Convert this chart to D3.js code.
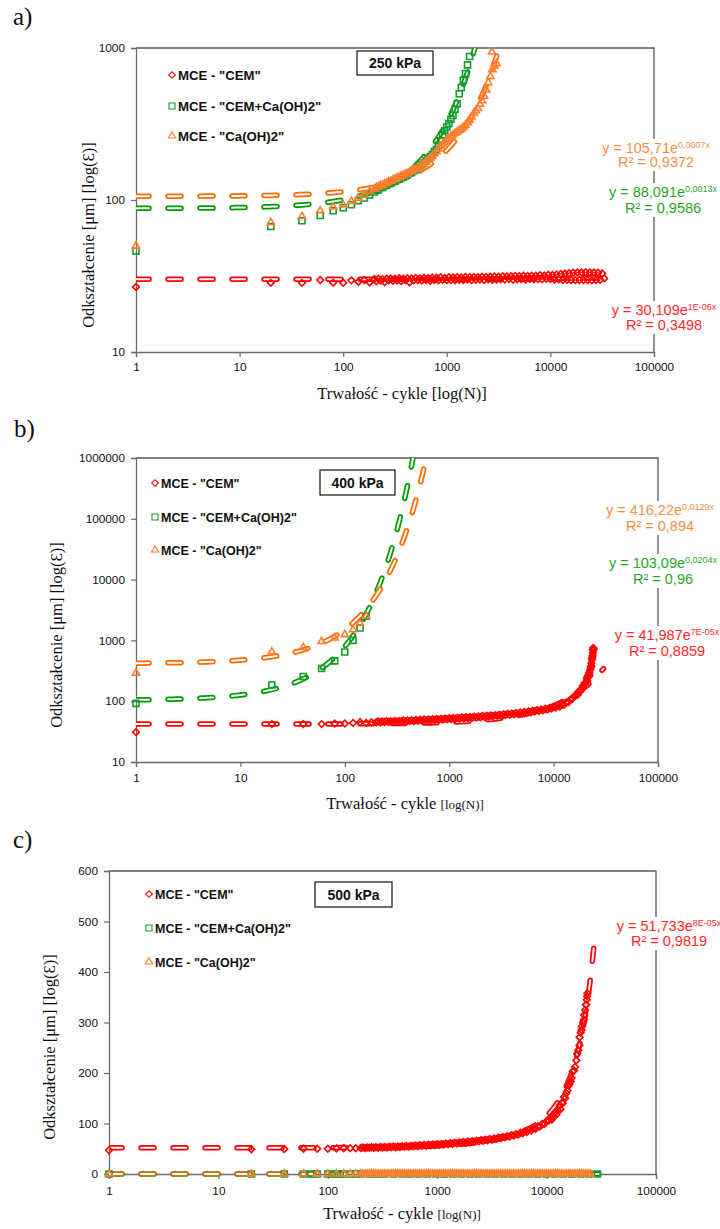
<!DOCTYPE html>
<html><head><meta charset="utf-8">
<script src="https://cdn.jsdelivr.net/npm/d3@7"></script>
<style>body{margin:0;background:#fff}svg{display:block}</style>
</head><body>
<svg id="chart" width="720" height="1229"></svg>
<script>
// ---------------- DATA ----------------
const xTicks = [1, 10, 100, 1000, 10000, 100000];
const yTicksA = [10, 100, 1000];
const yTicksB = [10, 100, 1000, 10000, 100000, 1000000];
const yTicksC = [0, 100, 200, 300, 400, 500, 600];
const seriesNames = ['MCE - "CEM"', 'MCE - "CEM+Ca(OH)2"', 'MCE - "Ca(OH)2"'];
const panelLabels = ['a)', 'b)', 'c)'];
const pressures = ['250 kPa', '400 kPa', '500 kPa'];
const xTitle = 'Trwałość - cykle ';
const xTitleUnit = '[log(N)]';
const yTitle = 'Odkształcenie [μm] [log(Ɛ)]';

const cycleGrid = [200,209,219,229,240,251,263,275,288,302,316,331,347,363,380,398,417,437,457,479,501,525,550,575,603,631,661,692,724,759,794,832,871,912,955,1000,1047,1096,1148,1202,1259,1318,1380,1445,1514,1585,1660,1738,1820,1905,1995,2089,2188,2291,2399,2512,2630,2754,2884,3020,3162,3311,3467,3631,3802,3981,4169,4365,4571,4786,5012,5248,5495,5754,6026,6310,6607,6918,7244,7586,7943,8318,8710,9120,9550,10000,10471,10965,11482,12023,12589,13183,13804,14454,15136,15849,16596,17378,18197,19055,19953,20893,21878,22909,23988,25119,26303,27542,28840,30200,31623,33113];

// panel a (250 kPa)
const cemA_early = [[1,26.8],[20,28.5],[40,28.5],[60,29.8],[80,28.6],[100,28.5],[120,29.6],[140,29],[160,29.8],[180,28.7]];
const cemA_dense = [30.2,29.2,30.4,29.5,30.1,28.8,30.3,29.6,30.5,29.4,30.3,29.5,30.6,29.3,30.4,29.7,30.6,28.7,30.5,29.6,30.7,29.7,30.5,29.5,30.8,29.8,30.6,29.4,30.9,29.8,30.8,29.6,31,29.9,30.7,29.7,31,29.8,30.9,29.6,31.1,29.9,30.9,29.8,31.2,30,31,29.7,31.2,29.9,31.1,30,31.3,29.8,31.2,30.1,31.3,29.9,31.4,30,31.3,30.1,31.5,30,31.4,30.2,31.5,29.9,31.6,30.1,31.5,30.2,31.7,30,31.6,30.3,31.8,30.1,31.8,30.2,32,30.1,31.9,30.3,32.2,30.2,32.1,30,32.4,30.1,32.6,29.8,32.8,29.9,33,29.8,33.2,29.7,33.3,29.8,33.4,29.7,33.5,29.8,33.4,29.6,33.3,29.8,33.2,29.9,32.8,30.5];
const cemCaA_early = [[1,46],[20,67],[40,73],[60,79],[80,85],[100,89],[120,93],[140,99],[160,103],[180,108]];
const cemCaA_dense = [113,116,117,121,121,124,125,128,129,132,133,136,137,140,141,144,146,150,152,156,158,163,166,171,175,181,186,193,199,208,215,230,245,268,285,302,318,340,360,395,430,500,550,615,680,775,880];
const caA_early = [[1,50],[20,71],[40,78],[60,85],[80,90],[100,93],[120,98],[140,103],[160,108],[180,114],[2730,942]];
const caA_dense = [118,121,122,125,125,128,129,132,133,136,137,140,141,144,145,148,149,153,155,158,160,163,165,170,173,179,183,189,194,201,208,217,225,233,240,249,255,263,268,275,280,287,292,301,310,323,335,352,372,387,400,427,450,482,530,592,650,722,760,790];
const trendCoefA = [30.109, 88.091, 105.71];
const trendRateA = [1e-6, 0.0013, 0.0007];
const trendMaxA = [33000, 2000, 3300];
const trendEqA = ['y = 30,109e', 'y = 88,091e', 'y = 105,71e'];
const trendSupA = ['1E-06x', '0,0013x', '0,0007x'];
const trendR2A = ['R² = 0,3498', 'R² = 0,9586', 'R² = 0,9372'];

// panel b (400 kPa)
const cemB_early = [[1,31],[20,42],[40,42],[60,42],[80,43],[100,43],[120,44],[140,45],[160,44],[180,45]];
const cemB_dense = [45,46.5,45,46.5,45.5,47,45.5,47,46,47.5,46,47.5,46.5,48,46.5,48,47,48.5,47,49,47.5,49.5,48,50,48,50,48.5,50.5,49,51,49.5,51.5,50,52,50.5,52.5,51,53,51.5,53.5,52,54,52.5,54.5,53,55,53.5,55.5,54,56,54.5,57,55,57.5,56,58,56.5,59,57.5,60,58,61,59,62,60,63,61,64,62,65,63,66.5,64.5,68,66,69.5,67.5,71,69,73,71,75,73,77.5,75.5,80,78.5,84,82,88,87,95,96,106,110,122,128,145,155,180,200,235,280,380,700];
const cemB_tail = [[21000,250],[21500,265],[22000,300],[22400,330],[22700,360],[23000,420],[23300,480],[23400,520],[23600,560],[23800,620],[23900,680],[24000,750],[24100,720],[20000,190],[21000,215],[22000,260],[19000,165],[18000,145],[17000,128]];
const cemCaB = [[1,92],[20,185],[40,255],[60,345],[80,460],[100,645],[120,1000],[140,1600],[160,2500]];
const caB = [[1,290],[20,650],[40,770],[60,960],[80,1100],[100,1250],[120,1500],[140,1900],[160,2500]];
const trendCoefB = [41.987, 103.09, 416.22];
const trendRateB = [7e-5, 0.0204, 0.0129];
const trendMaxB = [30000, 700, 1100];
const trendEqB = ['y = 41,987e', 'y = 103,09e', 'y = 416,22e'];
const trendSupB = ['7E-05x', '0,0204x', '0,0129x'];
const trendR2B = ['R² = 0,8859', 'R² = 0,96', 'R² = 0,894'];

// panel c (500 kPa)
const cemC_early = [[1,47],[20,49],[40,49.5],[60,50],[80,50],[100,50],[120,50.5],[140,51],[160,51],[180,51]];
const cemC_dense = [51.5,52.5,51.5,52.5,52,53,52,53,52,53.5,52.5,53.5,52.5,54,53,54.5,53,54.5,53.5,55,54,55.5,54,56,55,56.5,55,57,56,57.5,56,58,57,58.5,57.5,59,58,59.5,58.5,60.5,59,61,60,62,60.5,62.5,61.5,63.5,62,64.5,63,65,64,66,65,67,66,68,67,69.5,68,70.5,69.5,72,71,73.5,72.5,75,74,77,76,79,78,81.5,80.5,84,83,87,86,90,89.5,94,94,99,99,105,106,113,115,123,126,136,141,153,160,175,183,203,212,238,255,285,305,335];
const cemC_tail = [[20000,271],[20500,280],[21000,292],[21500,300],[22000,315],[22500,325],[23000,335],[23300,345],[23500,352],[23600,358],[19500,245],[18700,225],[17800,205],[16900,190],[16200,178],[15500,165],[14800,150],[14000,140],[13400,128],[12300,118],[11200,108]];
const cemCaC = [[1,0],[20,0],[40,0],[60,0],[70,0],[80,0],[100,0],[110,0],[120,0],[130,0],[140,0],[160,0],[180,0],[200,0],[240,0],[280,0],[330,0],[400,0],[480,0],[570,0],[680,0],[810,0],[970,0],[1160,0],[1390,0],[1660,0],[1990,0],[2380,0],[2850,0],[3400,0],[4070,0],[4870,0],[5820,0],[6960,0],[8320,0],[9950,0],[11900,0],[14200,0],[17000,0],[20400,0],[24400,0],[29100,0]];
const caC_early = [[1,0],[20,0],[40,0],[60,0],[80,0],[100,0],[120,0],[140,0],[160,0],[180,0]];
const caC_dense = [0,0,0,0,0,0,0,0,0,0,0,0,0,0,0,0,0,0,0,0,0,0,0,0,0,0,0,0,0,0,0,0,0,0,0,0,0,0,0,0,0,0,0,0,0,0,0,0,0,0,0,0,0,0,0,0,0,0,0,0,0,0,0,0,0,0,0,0,0,0,0,0,0,0,0,0,0,0,0,0,0,0,0,0,0,0,0,0,0,0,0,0,0,0,0,0,0,0,0,0,0,0,0,0,0,0];
const trendCoefC = [51.733, 0, 0];
const trendRateC = [8e-5, 0, 0];
const trendMaxC = [27800, 30000, 25000];
const trendEqC = ['y = 51,733e'];
const trendSupC = ['8E-05x'];
const trendR2C = ['R² = 0,9819'];

// pair the dense readings with their cycle counts
const onGrid = vals => vals.map((v, i) => [cycleGrid[i], v]);
const cemA = cemA_early.concat(onGrid(cemA_dense));
const cemCaA = cemCaA_early.concat(onGrid(cemCaA_dense));
const caA = caA_early.concat(onGrid(caA_dense));
const cemB = cemB_early.concat(onGrid(cemB_dense), cemB_tail);
const cemC = cemC_early.concat(onGrid(cemC_dense), cemC_tail);
const caC = caC_early.concat(onGrid(caC_dense));

// ---------------- STYLE / LAYOUT ----------------
const markerColors = ['#ff0000', '#139a30', '#ff7f30'];
const trendColors = ['#ff0000', '#009a00', '#ff6a00'];
const textColors = ['#ff2a2a', '#2aa52a', '#f39044'];
const symbolTypes = ['diamond', 'square', 'triangle'];
const serif = "'Liberation Serif','Times New Roman',serif";
const sans = "'Liberation Sans',Arial,sans-serif";

const panels = [
  {left:136, right:654, top:48, bottom:352, yLog:true, yDomain:[10,1000], yTicks:yTicksA,
   series:[cemA, cemCaA, caA], coef:trendCoefA, rate:trendRateA, tmax:trendMaxA,
   eq:trendEqA, sup:trendSupA, r2:trendR2A,
   ann:[[664,315,330],[663,197,213],[656,153,167]],
   label:[13,25], legX:172, legY:[75,106,136], legFont:13.2,
   box:[357,51,76,24], xPad:6, yTitleX:88, yTitleY:235, xTitleX:402, xTitleY:399, unitSmall:false},
  {left:136, right:658, top:458, bottom:762, yLog:true, yDomain:[10,1000000], yTicks:yTicksB,
   series:[cemB, cemCaB, caB], coef:trendCoefB, rate:trendRateB, tmax:trendMaxB,
   eq:trendEqB, sup:trendSupB, r2:trendR2B,
   ann:[[667,640,656],[663,568,584],[660,515,531]],
   label:[14,437], legX:155, legY:[483,517,550], legFont:12.5,
   box:[320,470,75,25], xPad:7, yTitleX:56, yTitleY:635, xTitleX:405, xTitleY:809, unitSmall:true},
  {left:109, right:656, top:871, bottom:1174, yLog:false, yDomain:[0,600], yTicks:yTicksC,
   series:[cemC, cemCaC, caC], coef:trendCoefC, rate:trendRateC, tmax:trendMaxC,
   eq:trendEqC, sup:trendSupC, r2:trendR2C,
   ann:[[669,931,946]],
   label:[13,848], legX:149, legY:[894,928,962], legFont:12.5,
   box:[315,882,77,25], xPad:8, yTitleX:49, yTitleY:1047, xTitleX:402, xTitleY:1219, unitSmall:true}
];

const svg = d3.select('#chart');
const defs = svg.append('defs');

function symbolPath(type, size) {
  if (type === 'diamond') return d3.symbol(d3.symbolSquare, size * 0.62)();
  if (type === 'square') return d3.symbol(d3.symbolSquare, size)();
  return d3.symbol(d3.symbolTriangle, size * 0.62)();
}
const markerSize = 36;

panels.forEach((p, pi) => {
  const g = svg.append('g');
  const x = d3.scaleLog().domain([1, 100000]).range([p.left, p.right]);
  const y = p.yLog ? d3.scaleLog().domain(p.yDomain).range([p.bottom, p.top])
                   : d3.scaleLinear().domain(p.yDomain).range([p.bottom, p.top]);

  const clipId = 'clip' + pi;
  defs.append('clipPath').attr('id', clipId).append('rect')
    .attr('x', p.left).attr('y', p.top).attr('width', p.right - p.left).attr('height', p.bottom - p.top + 4);

  g.append('path').attr('d', `M${p.left},${p.top}H${p.right}V${p.bottom}`)
    .attr('fill', 'none').attr('stroke', '#5a5a5a').attr('stroke-width', 1.3);

  const xAxis = d3.axisBottom(x).tickValues(xTicks).tickFormat(d => String(d)).tickSize(5).tickPadding(p.xPad);
  const yAxis = d3.axisLeft(y).tickValues(p.yTicks).tickFormat(d => String(d)).tickSize(5).tickPadding(6);
  const gx = g.append('g').attr('transform', `translate(0,${p.bottom})`).call(xAxis);
  const gy = g.append('g').attr('transform', `translate(${p.left},0)`).call(yAxis);
  [gx, gy].forEach(ax => {
    ax.select('.domain').attr('stroke', '#6a6a6a').attr('stroke-width', 1.3);
    ax.selectAll('.tick line').attr('stroke', '#6a6a6a').attr('stroke-width', 1.2);
    ax.selectAll('.tick text').attr('font-family', sans).attr('font-size', 11.8).attr('fill', '#111');
  });

  // trendlines (hollow dashed look)
  const tg = g.append('g').attr('clip-path', `url(#${clipId})`);
  p.coef.forEach((a, si) => {
    const b = p.rate[si];
    const lx = d3.range(0, 301).map(i => Math.pow(10, Math.log10(p.tmax[si]) * i / 300));
    const pts = lx.map(n => [n, a * Math.exp(b * n)]);
    const line = d3.line().x(d => x(d[0])).y(d => {
      const v = d[1];
      if (p.yLog && v > p.yDomain[1] * 3) return y(p.yDomain[1] * 3);
      return y(v);
    });
    const col = (pi === 2 && si === 2) ? '#c9781f' : trendColors[si];
    tg.append('path').attr('d', line(pts)).attr('fill', 'none').attr('stroke', col)
      .attr('stroke-width', 5.5).attr('stroke-dasharray', '13 19').attr('stroke-linecap', 'round');
    tg.append('path').attr('d', line(pts)).attr('fill', 'none').attr('stroke', '#fff')
      .attr('stroke-width', 2).attr('stroke-dasharray', '13 19').attr('stroke-linecap', 'round');
  });

  // markers
  p.series.forEach((data, si) => {
    const type = symbolTypes[si];
    g.append('g').selectAll('path').data(data).join('path')
      .attr('d', symbolPath(type, markerSize))
      .attr('transform', d => `translate(${x(d[0])},${y(d[1])})` + (type === 'diamond' ? ' rotate(45)' : ''))
      .attr('fill', 'none').attr('stroke', markerColors[si]).attr('stroke-width', 1.6);
  });

  // legend
  seriesNames.forEach((name, si) => {
    const type = symbolTypes[si];
    g.append('path').attr('d', symbolPath(type, markerSize))
      .attr('transform', `translate(${p.legX},${p.legY[si]})` + (type === 'diamond' ? ' rotate(45)' : ''))
      .attr('fill', 'none').attr('stroke', markerColors[si]).attr('stroke-width', 1.1);
    g.append('text').attr('x', p.legX + 6).attr('y', p.legY[si] + 4.5)
      .attr('font-family', sans).attr('font-weight', 'bold').attr('font-size', p.legFont)
      .attr('fill', '#111').text(name);
  });

  // pressure box
  g.append('rect').attr('x', p.box[0]).attr('y', p.box[1]).attr('width', p.box[2]).attr('height', p.box[3])
    .attr('fill', '#fff').attr('stroke', '#111').attr('stroke-width', 1.2);
  g.append('text').attr('x', p.box[0] + p.box[2] / 2).attr('y', p.box[1] + p.box[3] / 2 + 5)
    .attr('text-anchor', 'middle').attr('font-family', sans).attr('font-weight', 'bold')
    .attr('font-size', 14).attr('fill', '#111').text(pressures[pi]);

  // trend annotations
  p.ann.forEach((an, si) => {
    const ag = g.append('g');
    const bg = ag.append('rect').attr('fill', '#fff');
    const t1 = ag.append('text').attr('x', an[0]).attr('y', an[1]).attr('text-anchor', 'middle')
      .attr('font-family', sans).attr('font-size', 14.5).attr('fill', textColors[si]);
    t1.append('tspan').text(p.eq[si]);
    t1.append('tspan').attr('dy', -5).attr('font-size', 9).text(p.sup[si]);
    ag.append('text').attr('x', an[0]).attr('y', an[2]).attr('text-anchor', 'middle')
      .attr('font-family', sans).attr('font-size', 14.5).attr('fill', textColors[si]).text(p.r2[si]);
    const bb = ag.node().getBBox();
    bg.attr('x', bb.x - 1).attr('y', bb.y - 1).attr('width', bb.width + 2).attr('height', bb.height + 2);
  });

  g.append('text').attr('x', p.label[0]).attr('y', p.label[1])
    .attr('font-family', serif).attr('font-size', 25).attr('fill', '#111').text(panelLabels[pi]);

  g.append('text').attr('transform', `translate(${p.yTitleX},${p.yTitleY}) rotate(-90)`)
    .attr('text-anchor', 'middle').attr('dy', '0.35em')
    .attr('font-family', serif).attr('font-size', 16.5).attr('fill', '#111').text(yTitle);
  const xt = g.append('text').attr('x', p.xTitleX).attr('y', p.xTitleY).attr('text-anchor', 'middle')
    .attr('font-family', serif).attr('font-size', 16.5).attr('fill', '#111');
  xt.append('tspan').text(xTitle);
  xt.append('tspan').attr('font-size', p.unitSmall ? 13 : 16.5).text(xTitleUnit);
});
</script>
</body></html>
